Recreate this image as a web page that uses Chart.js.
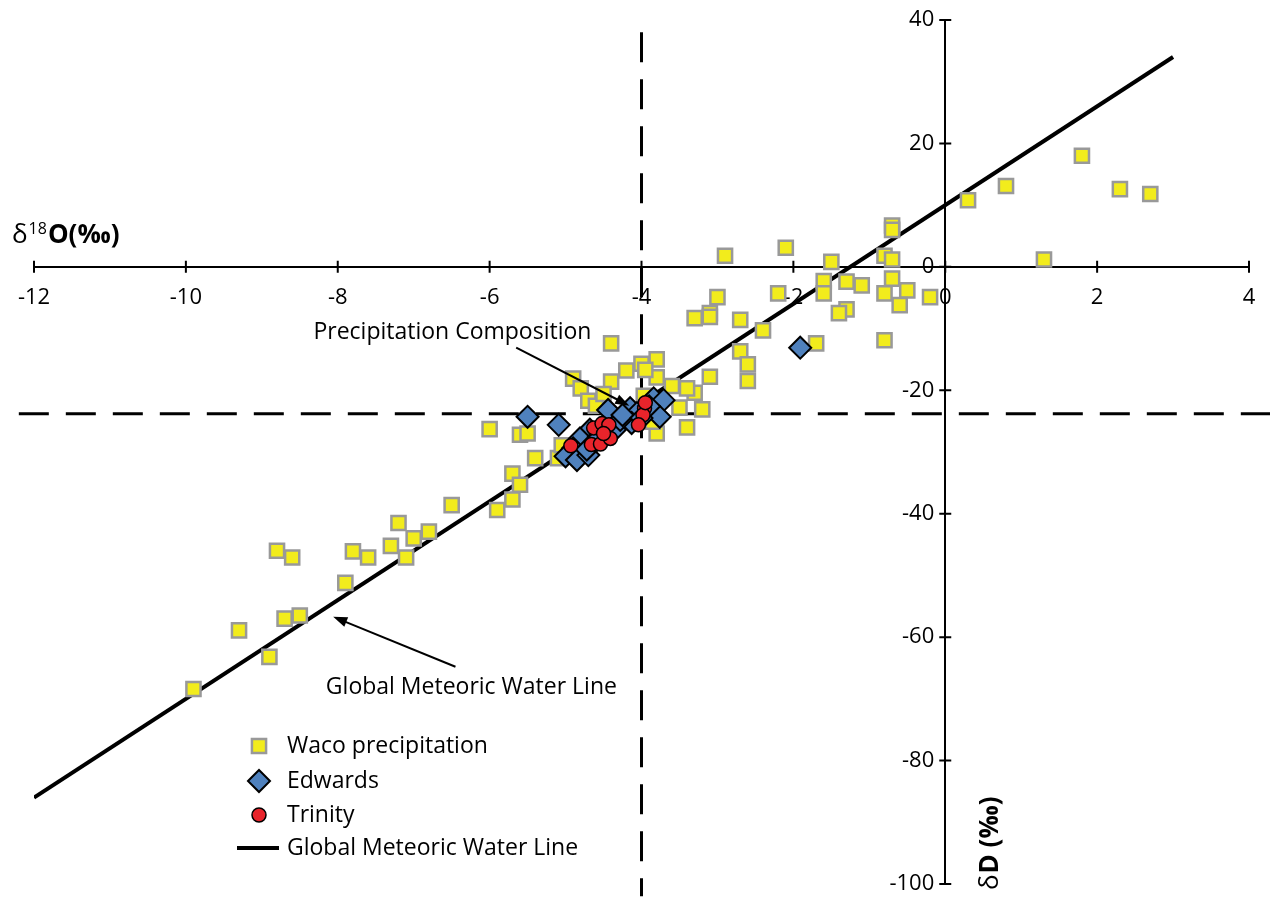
<!DOCTYPE html>
<html>
<head>
<meta charset="utf-8">
<script src="https://cdn.jsdelivr.net/npm/chart.js@4.4.1/dist/chart.umd.min.js"></script>
<style>
  html, body { margin: 0; padding: 0; background: #fff; }
  .container { position: relative; width: 1270px; height: 899px; }
</style>
</head>
<body>
<div class="container"><canvas id="isotopeChart" width="1270" height="899"></canvas></div>
<script>
// Waco precipitation samples
const wacoO18 = [1.8, 0.8, 0.3, 2.3, 2.7, 1.3, -0.7, -0.7, -2.9, -2.1, -1.5, -0.8, -0.7,
  -1.6, -1.3, -1.1, -1.6, -2.2, -0.7, -0.8, -0.5, -0.2, -0.6, -1.3, -1.4,
  -3.0, -3.3, -3.1, -3.1, -2.7, -2.4, -2.7, -2.6, -2.6, -3.1, -3.3, -3.4, -3.2, -1.7, -0.8,
  -4.4, -4.9, -4.8, -4.7, -4.6, -4.4, -4.5, -4.2, -4.0, -3.8, -3.8, -3.95, -3.6, -3.5, -3.4, -3.8, -3.85, -3.97,
  -6.0, -5.6, -5.5, -5.4, -5.1, -5.05, -5.7, -5.6, -5.7, -5.9,
  -6.5, -7.2, -7.0, -6.8, -7.3, -7.1, -7.8, -7.6, -8.8, -8.6, -7.9, -8.7, -8.5, -9.3, -8.9, -9.9];
const wacoD = [18.0, 13.1, 10.8, 12.6, 11.8, 1.2, 6.7, 6.0, 1.8, 3.1, 0.8, 1.8, 1.2,
  -2.3, -2.4, -3.0, -4.3, -4.3, -1.9, -4.3, -3.8, -4.9, -6.2, -6.9, -7.5,
  -4.9, -8.3, -7.5, -8.1, -8.6, -10.3, -13.7, -15.8, -18.5, -17.8, -20.4, -19.7, -23.1, -12.4, -11.9,
  -12.4, -18.1, -19.7, -21.7, -22.5, -18.6, -20.6, -16.8, -15.7, -15.0, -17.9, -16.7, -19.3, -22.8, -26.0, -27.0, -25.1, -20.9,
  -26.3, -27.2, -27.0, -31.0, -31.0, -28.9, -33.5, -35.3, -37.7, -39.4,
  -38.6, -41.5, -44.0, -42.9, -45.2, -47.1, -46.1, -47.1, -46.0, -47.1, -51.2, -57.0, -56.5, -58.9, -63.2, -68.4];

// Edwards aquifer wells
const edwardsO18 = [-5.5, -5.09, -1.91, -4.44, -4.15, -4.06, -3.84, -3.71, -3.76, -4.13, -4.68, -4.81, -4.9,
  -5.0, -4.85, -4.7, -4.35, -4.28, -4.56, -4.25, -4.72, -4.6, -4.5, -4.0, -3.9];
const edwardsD = [-24.3, -25.6, -13.1, -23.2, -22.9, -23.7, -21.3, -21.6, -24.3, -25.3, -26.4, -27.8, -29.4,
  -30.7, -31.3, -30.5, -26.4, -24.8, -27.5, -24.0, -29.6, -28.2, -26.0, -24.5, -22.6];

// Trinity aquifer wells
const trinityO18 = [-4.93, -4.63, -4.52, -4.43, -4.66, -4.54, -4.41, -4.5, -3.96, -3.98, -4.04, -3.95];
const trinityD = [-29.0, -26.1, -25.4, -25.6, -28.8, -28.7, -27.8, -27.0, -22.9, -24.0, -25.6, -22.0];

// Global Meteoric Water Line end points
const gmwlO18 = [-12, 3];
const gmwlD = [-86, 34];

// weighted precipitation composition (dashed cross-hair)
const precipO18 = -4.0;
const precipD = -23.8;

const xTickValues = [-12, -10, -8, -6, -4, -2, 0, 2, 4];
const yTickValues = [-100, -80, -60, -40, -20, 0, 20, 40];

const FONT = "'Open Sans', 'Liberation Sans', sans-serif";
const YELLOW = "#f2ec1c";
const GREY = "#999999";
const BLUE = "#4f81bd";
const RED = "#e8242b";

const toPoints = (xs, ys) => xs.map((x, i) => ({ x, y: ys[i] }));

// crossing tick marks on both axes, y labels set off from the axis
const crossTicks = {
  id: "crossTicks",
  beforeDatasetsDraw(chart) {
    const { ctx, scales: { x, y } } = chart;
    const x0 = x.getPixelForValue(0);
    const y0 = y.getPixelForValue(0);
    ctx.save();
    ctx.strokeStyle = "#000";
    ctx.lineWidth = 2;
    ctx.beginPath();
    xTickValues.forEach((v) => {
      const px = x.getPixelForValue(v);
      ctx.moveTo(px, y0 - 6);
      ctx.lineTo(px, y0 + 6);
    });
    yTickValues.forEach((v) => {
      const py = y.getPixelForValue(v);
      ctx.moveTo(x0 - 6, py);
      ctx.lineTo(x0 + 6, py);
    });
    ctx.stroke();

    ctx.fillStyle = "#000";
    ctx.font = `22px ${FONT}`;
    ctx.textAlign = "right";
    ctx.textBaseline = "middle";
    y.ticks.forEach((t) => {
      ctx.fillText(t.label, x0 - 11, y.getPixelForValue(t.value));
    });
    ctx.restore();
  },
};

function arrow(ctx, x1, y1, x2, y2) {
  const ang = Math.atan2(y2 - y1, x2 - x1);
  const head = 15;
  ctx.beginPath();
  ctx.moveTo(x1, y1);
  ctx.lineTo(x2 - Math.cos(ang) * head * 0.8, y2 - Math.sin(ang) * head * 0.8);
  ctx.stroke();
  ctx.beginPath();
  ctx.moveTo(x2, y2);
  ctx.lineTo(x2 - head * Math.cos(ang - 0.35), y2 - head * Math.sin(ang - 0.35));
  ctx.lineTo(x2 - head * Math.cos(ang + 0.35), y2 - head * Math.sin(ang + 0.35));
  ctx.closePath();
  ctx.fill();
}

// axis titles, callouts and legend
const annotations = {
  id: "annotations",
  afterDatasetsDraw(chart) {
    const { ctx, chartArea, scales: { x, y } } = chart;
    const x0 = x.getPixelForValue(0);
    const y0 = y.getPixelForValue(0);
    ctx.save();
    ctx.fillStyle = "#000";
    ctx.strokeStyle = "#000";

    // x axis title: δ18O(‰)
    let tx = chartArea.left - 22;
    const ty = y0 - 24;
    ctx.textAlign = "left";
    ctx.textBaseline = "alphabetic";
    ctx.font = `26px ${FONT}`;
    ctx.fillText("δ", tx, ty);
    tx += ctx.measureText("δ").width + 1;
    ctx.font = `16px ${FONT}`;
    ctx.fillText("18", tx, ty - 9);
    tx += ctx.measureText("18").width + 1;
    ctx.font = `bold 26px ${FONT}`;
    ctx.fillText("O(‰)", tx, ty);

    // y axis title: δD (‰), rotated
    ctx.save();
    ctx.translate(x0 + 45, chartArea.bottom + 6);
    ctx.rotate(-Math.PI / 2);
    ctx.textBaseline = "middle";
    ctx.font = `26px ${FONT}`;
    ctx.fillText("δ", 0, 0);
    const dw = ctx.measureText("δ").width;
    ctx.font = `bold 26px ${FONT}`;
    ctx.fillText("D (‰)", dw + 1, 0);
    ctx.restore();

    // callouts
    ctx.font = `23px ${FONT}`;
    ctx.textAlign = "center";
    ctx.textBaseline = "middle";
    ctx.fillText("Precipitation Composition", x.getPixelForValue(-6.49), y.getPixelForValue(-10.7));
    ctx.fillText("Global Meteoric Water Line", x.getPixelForValue(-6.24), y.getPixelForValue(-68.1));
    ctx.lineWidth = 2;
    arrow(ctx, x.getPixelForValue(-5.65), y.getPixelForValue(-13.1), x.getPixelForValue(-4.16), y.getPixelForValue(-22.5));
    arrow(ctx, x.getPixelForValue(-6.45), y.getPixelForValue(-64.8), x.getPixelForValue(-8.06), y.getPixelForValue(-56.7));

    // legend
    const lx = chartArea.left + 225;
    const rows = [chartArea.bottom - 138, chartArea.bottom - 103, chartArea.bottom - 69, chartArea.bottom - 36];
    const order = [2, 3, 4, 1];
    ctx.textAlign = "left";
    ctx.font = `23px ${FONT}`;
    order.forEach((di, i) => {
      const ds = chart.data.datasets[di];
      if (ds.showLine) {
        ctx.lineWidth = ds.borderWidth;
        ctx.strokeStyle = ds.borderColor;
        ctx.beginPath();
        ctx.moveTo(lx - 22, rows[i]);
        ctx.lineTo(lx + 20, rows[i]);
        ctx.stroke();
      } else {
        ctx.fillStyle = ds.backgroundColor;
        ctx.strokeStyle = ds.borderColor;
        ctx.lineWidth = ds.borderWidth;
        Chart.helpers.drawPoint(ctx, { pointStyle: ds.pointStyle, radius: ds.pointRadius, borderWidth: ds.borderWidth }, lx, rows[i]);
      }
      ctx.fillStyle = "#000";
      ctx.fillText(ds.label, lx + 28, rows[i]);
    });
    ctx.restore();
  },
};

new Chart(document.getElementById("isotopeChart"), {
  type: "scatter",
  data: {
    datasets: [
      {
        label: "precipitation composition",
        type: "line",
        data: [
          { x: precipO18, y: 38 }, { x: precipO18, y: -102 }, { x: NaN, y: NaN },
          { x: -12.2, y: precipD }, { x: 4.3, y: precipD },
        ],
        spanGaps: false,
        borderColor: "#000",
        borderWidth: 3,
        borderDash: [30, 17],
        pointRadius: 0,
        clip: false,
        order: 5,
      },
      {
        label: "Global Meteoric Water Line",
        type: "line",
        showLine: true,
        data: toPoints(gmwlO18, gmwlD),
        borderColor: "#000",
        borderWidth: 4,
        pointRadius: 0,
        order: 4,
      },
      {
        label: "Waco precipitation",
        data: toPoints(wacoO18, wacoD),
        pointStyle: "rect",
        pointRadius: 10,
        backgroundColor: YELLOW,
        borderColor: GREY,
        borderWidth: 2.5,
        order: 3,
      },
      {
        label: "Edwards",
        data: toPoints(edwardsO18, edwardsD),
        pointStyle: "rectRot",
        pointRadius: 11,
        backgroundColor: BLUE,
        borderColor: "#000",
        borderWidth: 2,
        order: 2,
      },
      {
        label: "Trinity",
        data: toPoints(trinityO18, trinityD),
        pointStyle: "circle",
        pointRadius: 7,
        backgroundColor: RED,
        borderColor: "#000",
        borderWidth: 1.5,
        order: 1,
      },
    ],
  },
  options: {
    responsive: false,
    animation: false,
    events: [],
    layout: { padding: { left: 34, right: 21, top: 20, bottom: 15 } },
    scales: {
      x: {
        type: "linear",
        min: -12,
        max: 4,
        position: { y: 0 },
        afterBuildTicks: (scale) => { scale.ticks = xTickValues.map((v) => ({ value: v })); },
        grid: { display: false, tickLength: 16 },
        border: { display: true, color: "#000", width: 2 },
        ticks: { color: "#000", font: { family: FONT, size: 22 }, padding: 2, maxRotation: 0 },
      },
      y: {
        type: "linear",
        min: -100,
        max: 40,
        position: { x: 0 },
        afterBuildTicks: (scale) => { scale.ticks = yTickValues.map((v) => ({ value: v })); },
        grid: { display: false, tickLength: 10 },
        border: { display: true, color: "#000", width: 2 },
        // labels are drawn by the crossTicks plugin so they can sit clear of the axis
        ticks: { display: false, font: { family: FONT, size: 22 } },
      },
    },
    plugins: {
      legend: { display: false },
      tooltip: { enabled: false },
    },
  },
  plugins: [crossTicks, annotations],
});
</script>
</body>
</html>
